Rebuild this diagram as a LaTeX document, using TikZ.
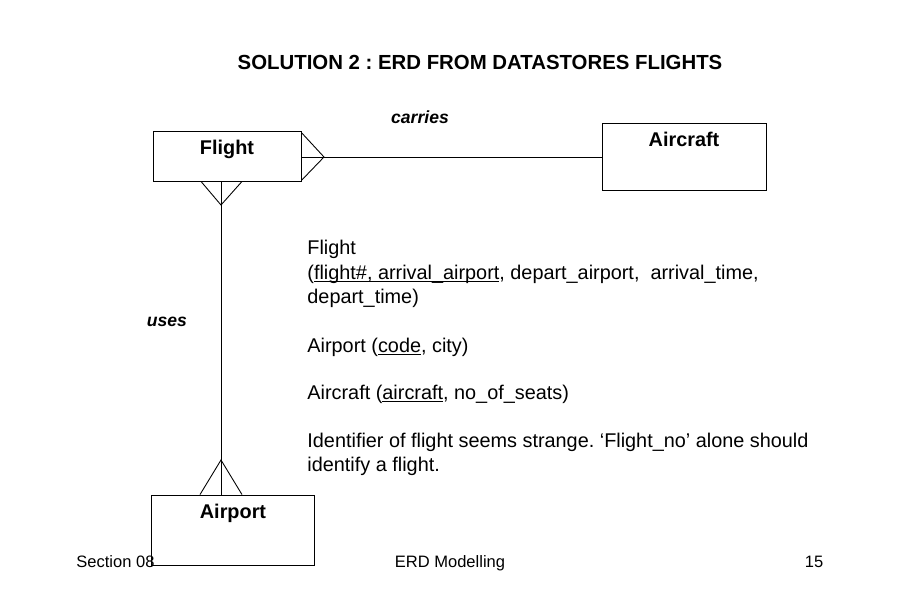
\documentclass[tikz,border=0pt]{standalone}
\usepackage{fontspec}
\setmainfont{Liberation Sans}
\usetikzlibrary{positioning, calc}
\frenchspacing
\newcommand{\keyline}[1]{\setbox0\hbox{#1}\rlap{\rule[-1.9pt]{\wd0}{0.5pt}}\box0}

\begin{document}
\begin{tikzpicture}[x=0.02cm, y=-0.02cm, line width=0.5pt,
        entity/.style={draw, rectangle, inner sep=0pt},
        ename/.style={font=\fontsize{11.3}{13}\selectfont\bfseries, anchor=base},
        rel/.style={font=\fontsize{10}{12}\selectfont\bfseries\itshape, anchor=base},
        body/.style={font=\fontsize{11.3}{13}\selectfont, anchor=base west, inner sep=0pt},
        foot/.style={font=\fontsize{9.4}{11}\selectfont, anchor=base, inner sep=0pt}]
        \useasboundingbox (0,0) rectangle (900,600);

        % Title
        \node[font=\fontsize{11.6}{13}\selectfont\bfseries, anchor=base] (title) at (480,69) {SOLUTION 2 : ERD FROM DATASTORES FLIGHTS};

        % Define the entities
        \node[entity, minimum width=2.96cm, minimum height=1cm] (flight) at (227,156) {};
        \node[entity, minimum width=3.28cm, minimum height=1.34cm] (aircraft) at (684,156.5) {};
        \node[entity, minimum width=3.26cm, minimum height=1.4cm] (airport) at (232.5,530) {};
        \node[ename] (flightname) at (227,154) {Flight};
        \node[ename] (aircraftname) at (684,146) {Aircraft};
        \node[ename] (airportname) at (233,518) {Airport};

        % Crow's feet
        \coordinate (cfR) at (324,157);
        \coordinate (cfD) at (221,205);
        \coordinate (cfU) at (221,460);

        % Draw relationships
        \draw (flight.east |- cfR) -- (aircraft.west |- cfR);
        \draw (flight.north east) ++(0,2) -- (cfR) -- ($(flight.south east)+(0,-1)$);
        \draw (flight.south -| cfD) -- (airport.north -| cfD);
        \draw ($(flight.south -| cfD)+(-20,0)$) -- (cfD) -- ($(flight.south -| cfD)+(21,0)$);
        \draw ($(airport.north -| cfU)+(-21,0)$) -- (cfU) -- ($(airport.north -| cfU)+(21,0)$);
        \node[rel] (carries) at (420,123) {carries};
        \node[rel] (uses) at (167,326) {uses};

        % Relations
        \node[body] (rel1) at (307,254) {Flight};
        \node[body] (rel2) at (307,279) {(\keyline{flight\#, arrival\_airport}, depart\_airport,\ \ arrival\_time,};
        \node[body] (rel3) at (307,303.5) {depart\_time)};
        \node[body] (rel4) at (307,352) {Airport (\keyline{code}, city)};
        \node[body] (rel5) at (307,399) {Aircraft (\keyline{aircraft}, no\_of\_seats)};
        \node[body] (note1) at (307,447) {Identifier of flight seems strange. ‘Flight\_no’ alone should};
        \node[body] (note2) at (307,471) {identify a flight.};

        % Footer
        \node[foot, anchor=base west] (section) at (76,567) {Section 08};
        \node[foot] (course) at (450,567) {ERD Modelling};
        \node[foot] (page) at (814,567) {15};
    \end{tikzpicture}
\end{document}
